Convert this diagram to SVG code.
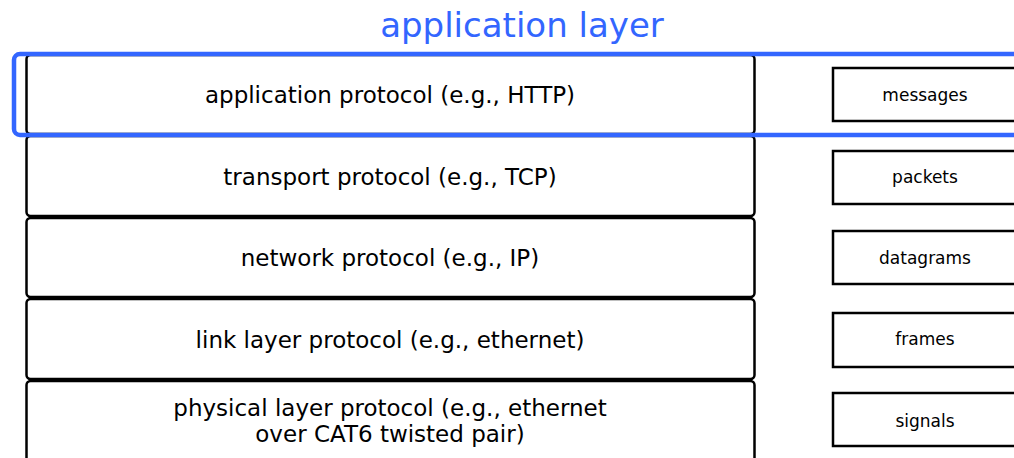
<svg xmlns="http://www.w3.org/2000/svg" width="1014" height="458" viewBox="0 0 1014 458">
<style>
.proto{fill:#fff;stroke:#000;stroke-width:2.5}
.pdu{fill:#fff;stroke:#000;stroke-width:2.5}
.t{font-family:"DejaVu Sans",sans-serif;font-size:23px;fill:#000;text-anchor:middle}
.s{font-family:"DejaVu Sans",sans-serif;font-size:17px;fill:#000;text-anchor:middle}
.title{font-family:"DejaVu Sans",sans-serif;font-size:34px;fill:#3366ff;text-anchor:middle}
</style>
<rect width="1014" height="458" fill="#fff"/>
<g id="app"><rect class="proto" x="26.5" y="55" width="728" height="79" rx="4"/><text class="t" x="390" y="103">application protocol (e.g., HTTP)</text></g>
<g id="transport"><rect class="proto" x="26.5" y="136" width="728" height="80" rx="4"/><text class="t" x="390" y="185">transport protocol (e.g., TCP)</text></g>
<g id="network"><rect class="proto" x="26.5" y="218" width="728" height="79" rx="4"/><text class="t" x="390" y="266">network protocol (e.g., IP)</text></g>
<g id="link"><rect class="proto" x="26.5" y="299" width="728" height="80" rx="4"/><text class="t" x="390" y="348">link layer protocol (e.g., ethernet)</text></g>
<g id="physical"><rect class="proto" x="26.5" y="381" width="728" height="90" rx="4"/><text class="t" x="390" y="416">physical layer protocol (e.g., ethernet</text><text class="t" x="390" y="442">over CAT6 twisted pair)</text></g>
<g id="messages"><rect class="pdu" x="833" y="68" width="184" height="53"/><text class="s" x="925" y="101">messages</text></g>
<g id="packets"><rect class="pdu" x="833" y="151" width="184" height="53"/><text class="s" x="925" y="183">packets</text></g>
<g id="datagrams"><rect class="pdu" x="833" y="231" width="184" height="53"/><text class="s" x="925" y="264">datagrams</text></g>
<g id="frames"><rect class="pdu" x="833" y="313" width="184" height="54"/><text class="s" x="925" y="345">frames</text></g>
<g id="signals"><rect class="pdu" x="833" y="393" width="184" height="53"/><text class="s" x="925" y="427">signals</text></g>
<g id="applayer"><rect x="14" y="54" width="1020" height="81" rx="6" fill="none" stroke="#3366ff" stroke-width="4.5"/><text class="title" x="522" y="37">application layer</text></g>
</svg>
